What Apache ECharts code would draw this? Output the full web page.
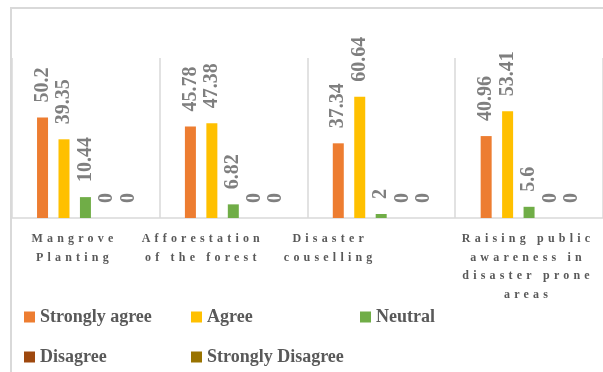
<!DOCTYPE html>
<html>
<head>
<meta charset="utf-8">
<script src="https://cdn.jsdelivr.net/npm/echarts@6/dist/echarts.min.js"></script>
<style>
  html, body { margin: 0; padding: 0; background: #ffffff; }
  #chart { width: 603px; height: 372px; }
</style>
</head>
<body>
<div id="chart"></div>
<script>
// Categories (one per measure) and response shares in percent
const categories = [
  'Mangrove\nPlanting',
  'Afforestation\nof the forest',
  'Disaster\ncouselling',
  'Raising public\nawareness in\ndisaster prone\nareas'
];
const seriesNames = ['Strongly agree', 'Agree', 'Neutral', 'Disagree', 'Strongly Disagree'];
const stronglyAgree    = [50.2, 45.78, 37.34, 40.96];
const agree            = [39.35, 47.38, 60.64, 53.41];
const neutral          = [10.44, 6.82, 2, 5.6];
const disagree         = [0, 0, 0, 0];
const stronglyDisagree = [0, 0, 0, 0];

const seriesData   = [stronglyAgree, agree, neutral, disagree, stronglyDisagree];
const seriesColors = ['#ED7D31', '#FFC000', '#70AD47', '#9E480E', '#997300'];

// caption nudges (right padding shifts each caption left by half its value)
const captionPad = [22, 61, 102, 2];
const legendLeft = [24, 191, 360, 24, 191];
const legendTop  = [308, 308, 308, 348, 348];

const serif = '"Liberation Serif", "Times New Roman", serif';

// Category captions use a tracked (letter-spaced) font; the family list is
// tagged with "Spaced" so the canvas text call can recognise them.
(function () {
  const proto = CanvasRenderingContext2D.prototype;
  const fill = proto.fillText;
  proto.fillText = function () {
    if (this.font.indexOf('Spaced') >= 0 && 'letterSpacing' in this) {
      this.letterSpacing = '4.2px';
      fill.apply(this, arguments);
      this.letterSpacing = '0px';
      return;
    }
    return fill.apply(this, arguments);
  };
})();

const rich = {};
captionPad.forEach((p, i) => {
  rich['c' + i] = {
    align: 'center',
    fontFamily: 'Spaced, ' + serif,
    fontWeight: 'bold',
    fontSize: 12,
    lineHeight: 18.5,
    color: '#595959',
    padding: [0, p, 0, 0]
  };
});

const chart = echarts.init(document.getElementById('chart'), null, { renderer: 'canvas' });

chart.setOption({
  backgroundColor: '#ffffff',
  animation: false,
  graphic: [{
    type: 'rect',
    silent: true,
    z: -10,
    shape: { x: 11, y: 8, width: 700, height: 500 },
    style: { fill: 'none', stroke: '#d9d9d9', lineWidth: 2 }
  }],
  grid: { left: 11.5, top: 58, width: 594, height: 160 },
  legend: seriesNames.map((name, i) => ({
    data: [name],
    left: legendLeft[i],
    top: legendTop[i],
    padding: 0,
    icon: 'rect',
    itemWidth: 11,
    itemHeight: 11,
    selectedMode: false,
    textStyle: {
      fontFamily: serif,
      fontWeight: 'bold',
      fontSize: 18,
      lineHeight: 18,
      color: '#595959'
    }
  })),
  xAxis: {
    type: 'category',
    data: categories,
    axisTick: { show: false },
    axisLine: { lineStyle: { color: '#d9d9d9', width: 1.5 } },
    splitLine: { show: true, interval: 0, lineStyle: { color: '#d9d9d9', width: 1.5 } },
    axisLabel: {
      interval: 0,
      margin: 12,
      formatter: (value, index) =>
        value.split('\n').map(line => '{c' + index + '|' + line + '}').join('\n'),
      rich: rich
    }
  },
  yAxis: {
    type: 'value',
    min: 0,
    max: 80,
    show: false,
    splitLine: { show: false }
  },
  series: seriesNames.map((name, i) => ({
    name: name,
    type: 'bar',
    data: seriesData[i],
    barWidth: 11,
    barGap: '95%',
    itemStyle: { color: seriesColors[i] },
    label: {
      show: true,
      position: 'top',
      rotate: 90,
      distance: 15,
      align: 'left',
      verticalAlign: 'middle',
      fontFamily: serif,
      fontWeight: 'bold',
      fontSize: 20,
      color: '#7f7f7f'
    }
  }))
});
</script>
</body>
</html>
